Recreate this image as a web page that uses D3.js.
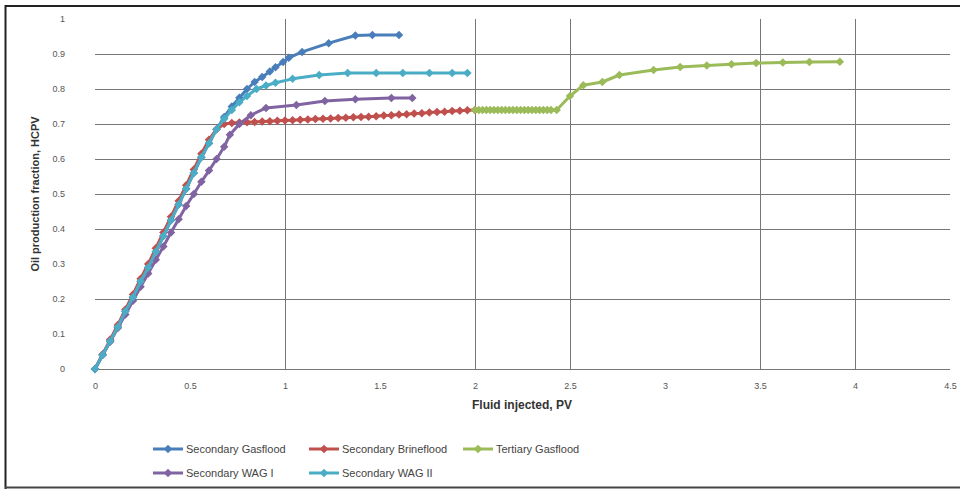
<!DOCTYPE html>
<html><head><meta charset="utf-8">
<script src="https://cdn.jsdelivr.net/npm/d3@7"></script>
<style>
html,body{margin:0;padding:0;background:#fff;}
svg{display:block;font-family:"Liberation Sans",Arial,sans-serif;}
</style></head>
<body><svg id="c" width="960" height="489"></svg>
<script>
// ---- data ----
const seriesNames = ["Secondary Gasflood","Secondary Brineflood","Tertiary Gasflood","Secondary WAG I","Secondary WAG II"];
const seriesColors = ["#4a7ebb","#c0504d","#9bbb59","#8064a2","#4bacc6"];

const gasX = [0,0.04,0.08,0.12,0.16,0.2,0.24,0.28,0.32,0.36,0.4,0.44,0.48,0.52,0.56,0.6,0.64,0.68,0.72,0.76,0.8,0.84,0.88,0.92,0.95,0.99,1.02,1.09,1.23,1.37,1.46,1.6];
const gasY = [0,0.04,0.08,0.12,0.165,0.205,0.25,0.29,0.335,0.38,0.425,0.47,0.515,0.56,0.605,0.645,0.685,0.72,0.75,0.775,0.8,0.82,0.834,0.85,0.862,0.877,0.889,0.906,0.931,0.953,0.954,0.954];

const brineX = [0,0.04,0.08,0.12,0.16,0.2,0.24,0.28,0.32,0.36,0.4,0.44,0.48,0.52,0.56,0.6,0.64,0.68,0.72,0.76,0.8,0.84,0.88,0.92,0.96,1.0,1.04,1.08,1.12,1.16,1.2,1.24,1.28,1.32,1.36,1.4,1.44,1.48,1.52,1.56,1.6,1.64,1.68,1.72,1.76,1.8,1.84,1.88,1.92,1.96,2.0];
const brineY = [0,0.042,0.084,0.126,0.17,0.213,0.258,0.3,0.345,0.39,0.435,0.48,0.525,0.57,0.615,0.655,0.685,0.7,0.703,0.704,0.705,0.706,0.707,0.708,0.709,0.71,0.711,0.712,0.713,0.714,0.715,0.716,0.717,0.718,0.719,0.72,0.721,0.722,0.724,0.725,0.727,0.728,0.73,0.731,0.733,0.734,0.735,0.737,0.738,0.739,0.74];

const tertX = [2.0,2.02,2.04,2.06,2.08,2.1,2.12,2.14,2.16,2.18,2.2,2.22,2.24,2.26,2.28,2.3,2.32,2.34,2.36,2.38,2.4,2.43,2.5,2.57,2.67,2.76,2.94,3.08,3.22,3.35,3.48,3.62,3.76,3.92];
const tertY = [0.74,0.74,0.74,0.74,0.74,0.74,0.74,0.74,0.74,0.74,0.74,0.74,0.74,0.74,0.74,0.74,0.74,0.74,0.74,0.74,0.74,0.74,0.78,0.811,0.82,0.84,0.854,0.863,0.867,0.871,0.874,0.876,0.877,0.878];

const wag1X = [0,0.04,0.08,0.12,0.16,0.2,0.24,0.28,0.32,0.36,0.4,0.44,0.48,0.52,0.56,0.6,0.64,0.68,0.71,0.76,0.82,0.9,1.06,1.21,1.37,1.56,1.67];
const wag1Y = [0,0.04,0.078,0.117,0.156,0.195,0.235,0.273,0.312,0.35,0.39,0.428,0.466,0.5,0.535,0.567,0.6,0.635,0.669,0.7,0.725,0.746,0.754,0.766,0.771,0.774,0.774];

const wag2X = [0,0.04,0.08,0.12,0.16,0.2,0.24,0.28,0.32,0.36,0.4,0.44,0.48,0.52,0.56,0.6,0.64,0.68,0.72,0.76,0.8,0.85,0.9,0.95,1.04,1.18,1.33,1.48,1.62,1.76,1.88,1.96];
const wag2Y = [0,0.04,0.08,0.12,0.165,0.205,0.25,0.29,0.335,0.38,0.425,0.47,0.515,0.56,0.605,0.645,0.685,0.715,0.74,0.762,0.78,0.8,0.81,0.818,0.829,0.84,0.846,0.846,0.846,0.846,0.846,0.846];

const xTicks = [0,0.5,1,1.5,2,2.5,3,3.5,4,4.5];
const yTicks = [0,0.1,0.2,0.3,0.4,0.5,0.6,0.7,0.8,0.9,1];
const xGrid = [1,2,2.5,3.5,4];
const yGrid = [0,0.2,0.4,0.5,0.6,0.7,0.8,0.9];

const xs = [gasX,brineX,tertX,wag1X,wag2X];
const ys = [gasY,brineY,tertY,wag1Y,wag2Y];

// ---- chart ----
const svg = d3.select("#c");
const x = d3.scaleLinear().domain([0,4.5]).range([95,950]);
const y = d3.scaleLinear().domain([0,1]).range([369,19]);

// outer border
svg.append("path").attr("d","M5.5,489 L5.5,6 L960,6").attr("fill","none").attr("stroke","#222").attr("stroke-width",2);
svg.append("line").attr("x1",5).attr("x2",960).attr("y1",487.5).attr("y2",487.5).attr("stroke","#444").attr("stroke-width",2);

// grid
svg.append("g").selectAll("line").data(yGrid).join("line")
  .attr("x1",x(0)).attr("x2",x(4.5)).attr("y1",d=>Math.round(y(d))+0.5).attr("y2",d=>Math.round(y(d))+0.5)
  .attr("stroke","#777").attr("stroke-width",1);
svg.append("g").selectAll("line").data(xGrid).join("line")
  .attr("y1",y(0)).attr("y2",y(1)).attr("x1",d=>Math.round(x(d))+0.5).attr("x2",d=>Math.round(x(d))+0.5)
  .attr("stroke","#777").attr("stroke-width",1);

// axes labels
const ya = svg.append("g").attr("transform","translate(95,0)")
  .call(d3.axisLeft(y).tickValues(yTicks).tickSize(0).tickPadding(30).tickFormat(d3.format("")));
ya.select(".domain").remove();
ya.selectAll("text").attr("font-size",9).attr("fill","#555").attr("font-family","Liberation Sans, Arial, sans-serif");

const xa = svg.append("g").attr("transform","translate(0,369)")
  .call(d3.axisBottom(x).tickValues(xTicks).tickSize(0).tickPadding(14).tickFormat(d3.format("")));
xa.select(".domain").remove();
xa.selectAll("text").attr("font-size",9).attr("fill","#555").attr("font-family","Liberation Sans, Arial, sans-serif");

// axis titles
svg.append("text").attr("transform","translate(39,194) rotate(-90)").attr("text-anchor","middle")
  .attr("font-size",11).attr("font-weight","bold").attr("fill","#333").text("Oil production fraction, HCPV");
svg.append("text").attr("x",522).attr("y",409).attr("text-anchor","middle")
  .attr("font-size",12).attr("font-weight","bold").attr("fill","#333").text("Fluid injected, PV");

// series
const line = d3.line().x(d=>x(d[0])).y(d=>y(d[1]));
const diamond = d3.symbol().type(d3.symbolSquare).size(36);
seriesNames.forEach((name,i)=>{
  const pts = xs[i].map((v,j)=>[v,ys[i][j]]);
  const g = svg.append("g");
  g.append("path").datum(pts).attr("d",line).attr("fill","none")
    .attr("stroke",seriesColors[i]).attr("stroke-width",3).attr("stroke-linejoin","round");
  g.selectAll("path.m").data(pts).join("path").attr("class","m")
    .attr("d",diamond)
    .attr("transform",d=>`translate(${x(d[0])},${y(d[1])}) rotate(45)`)
    .attr("fill",seriesColors[i]);
});

// legend
const legPos = [[153,449],[309,449],[463,449],[153,473],[309,473]];
seriesNames.forEach((name,i)=>{
  const [lx,ly] = legPos[i];
  const g = svg.append("g").attr("transform",`translate(${lx},${ly})`);
  g.append("line").attr("x1",0).attr("x2",30).attr("y1",0).attr("y2",0)
    .attr("stroke",seriesColors[i]).attr("stroke-width",3);
  g.append("path").attr("d",diamond).attr("transform","translate(15,0) rotate(45)").attr("fill",seriesColors[i]);
  g.append("text").attr("x",33).attr("y",4).attr("font-size",11).attr("fill","#444").text(name);
});
</script>
</body></html>
